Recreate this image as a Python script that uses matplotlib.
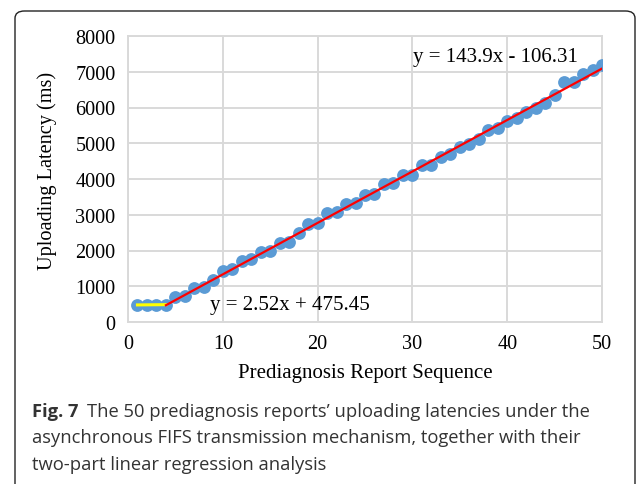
import numpy as np
import matplotlib
matplotlib.use("Agg")
import matplotlib.pyplot as plt
from matplotlib.patches import FancyBboxPatch

# uploading latency (ms) of each of the 50 prediagnosis reports
report_seq = list(range(1, 51))
latency_ms = [485, 480, 482, 486, 700, 720, 950, 980, 1180, 1420,
              1470, 1700, 1760, 1950, 2000, 2200, 2230, 2480, 2750, 2780,
              3050, 3080, 3300, 3320, 3560, 3590, 3850, 3880, 4100, 4120,
              4380, 4400, 4620, 4700, 4900, 4980, 5120, 5360, 5420, 5620,
              5700, 5880, 6000, 6120, 6360, 6700, 6720, 6950, 7050, 7180]

# two-part regression: (slope, intercept, x range)
fit_low = [2.52, 475.45, 1, 4]
fit_high = [143.9, -106.31, 4, 50]
eq_low = "y = 2.52x + 475.45"
eq_high = "y = 143.9x - 106.31"

xticks = [0, 10, 20, 30, 40, 50]
yticks = [0, 1000, 2000, 3000, 4000, 5000, 6000, 7000, 8000]

serif = ["Liberation Serif", "DejaVu Serif"]

fig = plt.figure(figsize=(6.36, 4.85), dpi=100)
ax = fig.add_axes([128 / 636, 1 - 323 / 485, 474 / 636, 286 / 485])

ax.scatter(report_seq, latency_ms, s=85, color="#5B9BD5", zorder=3, linewidths=0)

for fit, col, lw in [(fit_low, "#FFFF00", 2.2), (fit_high, "#FF0000", 1.6)]:
    xs = np.array([fit[2], fit[3]])
    ax.plot(xs, fit[0] * xs + fit[1], color=col, lw=lw, zorder=4)

ax.text(30.1, 7420, eq_high, fontsize=15, family=serif, va="center", ha="left")
ax.text(8.6, 500, eq_low, fontsize=15, family=serif, va="center", ha="left")

ax.set_xlim(0, 50)
ax.set_ylim(0, 8000)
ax.set_xticks(xticks)
ax.set_yticks(yticks)
ax.grid(True, color="#D9D9D9", lw=1.4)
ax.set_axisbelow(True)
for sp in ax.spines.values():
    sp.set_color("#D9D9D9")
    sp.set_linewidth(1.4)
ax.tick_params(length=0, pad=9, labelsize=14.6)
for lbl in ax.get_xticklabels() + ax.get_yticklabels():
    lbl.set_family(serif)

ax.set_xlabel("Prediagnosis Report Sequence", fontsize=15, family=serif)
ax.set_ylabel("Uploading Latency (ms)", fontsize=14.6, family=serif)
ax.xaxis.set_label_coords(0.5, -41 / 286)
ax.yaxis.set_label_coords(-71 / 474, 0.53)

# rounded frame around figure + caption
frame = FancyBboxPatch((15 / 636, -0.2), 620 / 636, 1.2 - 12 / 485,
                       boxstyle="round,pad=0,rounding_size=0.015",
                       transform=fig.transFigure, fill=False,
                       edgecolor="#222222", lw=1.0, clip_on=False)
fig.patches.append(frame)

sans = ["Open Sans", "DejaVu Sans"]
cap_col = "#333333"
fs = 13.2
fig.text(32 / 636, 1 - 417 / 485, "Fig. 7", fontsize=fs, family=sans,
         weight="bold", color=cap_col, va="baseline")
fig.text(87 / 636, 1 - 417 / 485,
         "The 50 prediagnosis reports\u2019 uploading latencies under the",
         fontsize=fs, family=sans, color=cap_col, va="baseline")
fig.text(32 / 636, 1 - 443 / 485,
         "asynchronous FIFS transmission mechanism, together with their",
         fontsize=fs, family=sans, color=cap_col, va="baseline")
fig.text(32 / 636, 1 - 470 / 485, "two-part linear regression analysis",
         fontsize=fs, family=sans, color=cap_col, va="baseline")

fig.savefig("out.png", dpi=100)
